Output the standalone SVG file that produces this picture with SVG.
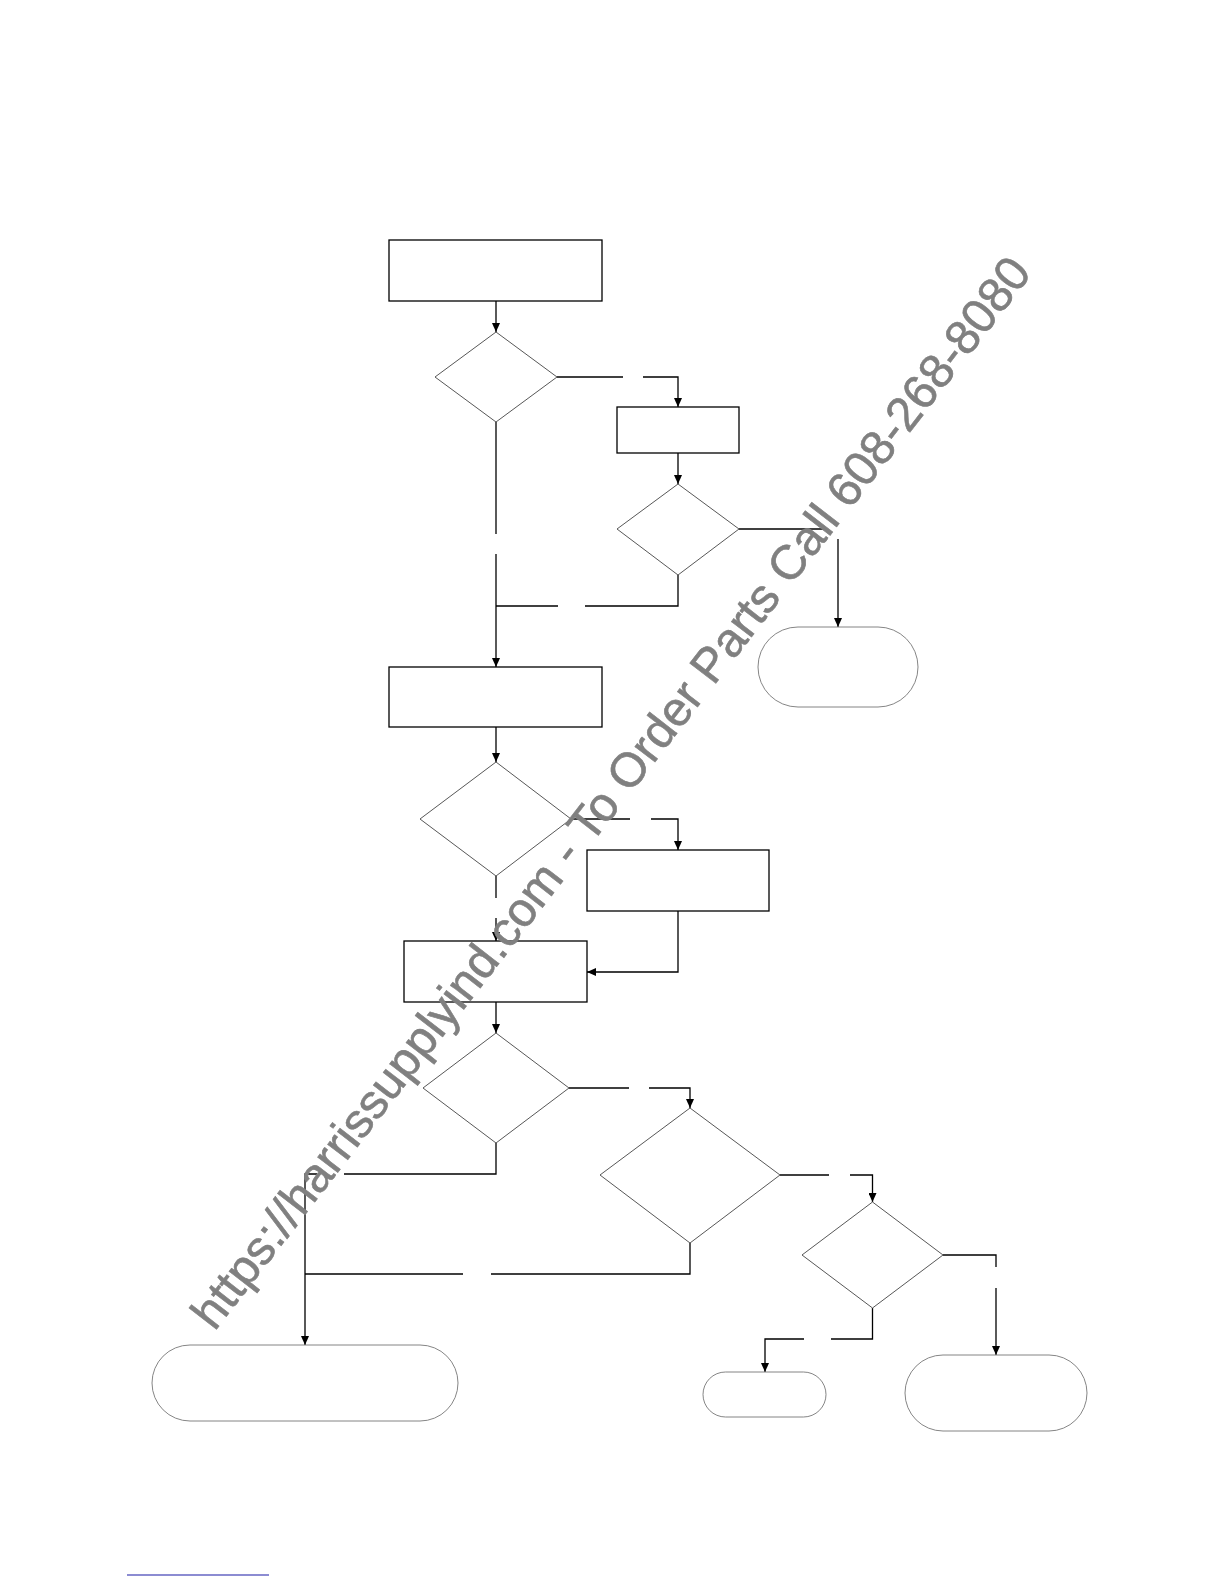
<svg xmlns="http://www.w3.org/2000/svg" width="1224" height="1584" viewBox="0 0 1224 1584">
<style>
.box{fill:#fff;stroke:#000;stroke-width:1.3}
.dec{fill:#fff;stroke:#444;stroke-width:0.9}
.term{fill:#fff;stroke:#777;stroke-width:0.9}
.con{fill:none;stroke:#000;stroke-width:1.3}
.wm{fill:#808080;stroke:#808080;stroke-width:0.6;font-family:"Liberation Sans",Arial,sans-serif;font-size:48.2px}
</style>
<defs>
<marker id="arr" viewBox="0 0 9 8" refX="9" refY="4" markerWidth="9" markerHeight="8" markerUnits="userSpaceOnUse" orient="auto">
<path d="M0,0 L9,4 L0,8 z" fill="#000"/>
</marker>
</defs>
<rect width="1224" height="1584" fill="#fff"/>
<g id="connectors">
<path class="con" d="M496,301 V332" marker-end="url(#arr)"/>
<path class="con" d="M557,377 H623"/>
<path class="con" d="M643,377 H678 V407" marker-end="url(#arr)"/>
<path class="con" d="M678,453 V484" marker-end="url(#arr)"/>
<path class="con" d="M739,529 H827"/>
<path class="con" d="M838,539 V627" marker-end="url(#arr)"/>
<path class="con" d="M678,575 V606 H585"/>
<path class="con" d="M558,606 H496"/>
<path class="con" d="M496,422 V534"/>
<path class="con" d="M496,554 V667" marker-end="url(#arr)"/>
<path class="con" d="M496,727 V762" marker-end="url(#arr)"/>
<path class="con" d="M571,819 H630"/>
<path class="con" d="M651,819 H678 V850" marker-end="url(#arr)"/>
<path class="con" d="M678,911 V972 H587" marker-end="url(#arr)"/>
<path class="con" d="M496,876 V898"/>
<path class="con" d="M496,918 V941" marker-end="url(#arr)"/>
<path class="con" d="M496,1002 V1033" marker-end="url(#arr)"/>
<path class="con" d="M569,1088 H629"/>
<path class="con" d="M649,1088 H690 V1108" marker-end="url(#arr)"/>
<path class="con" d="M496,1143 V1174 H344"/>
<path class="con" d="M317,1174 H305 V1345" marker-end="url(#arr)"/>
<path class="con" d="M690,1243 V1274 H491"/>
<path class="con" d="M463,1274 H305"/>
<path class="con" d="M780,1175 H829"/>
<path class="con" d="M850,1175 H872.5 V1202" marker-end="url(#arr)"/>
<path class="con" d="M943,1255 H996 V1267"/>
<path class="con" d="M996,1288 V1355" marker-end="url(#arr)"/>
<path class="con" d="M872.5,1308 V1339 H831"/>
<path class="con" d="M804,1339 H765 V1372" marker-end="url(#arr)"/>
</g>
<g id="box1"><rect class="box" x="389" y="240" width="213" height="61"/></g>
<g id="dec1"><polygon class="dec" points="496,332 557,377 496,422 435,377"/></g>
<g id="boxA"><rect class="box" x="617" y="407" width="122" height="46"/></g>
<g id="dec2"><polygon class="dec" points="678,484 739,529 678,575 617,529"/></g>
<g id="term1"><rect class="term" x="758" y="627" width="160" height="80" rx="40" ry="40"/></g>
<g id="box2"><rect class="box" x="389" y="667" width="213" height="60"/></g>
<g id="dec3"><polygon class="dec" points="496,762 571,819 496,876 420,819"/></g>
<g id="boxB"><rect class="box" x="587" y="850" width="182" height="61"/></g>
<g id="boxC"><rect class="box" x="404" y="941" width="183" height="61"/></g>
<g id="dec4"><polygon class="dec" points="496,1033 569,1088 496,1143 423,1088"/></g>
<g id="dec5"><polygon class="dec" points="690,1108 780,1175 690,1243 600,1175"/></g>
<g id="dec6"><polygon class="dec" points="872.5,1202 943,1255 872.5,1308 802,1255"/></g>
<g id="term2"><rect class="term" x="703" y="1372" width="123" height="45" rx="22.5" ry="22.5"/></g>
<g id="term3"><rect class="term" x="905" y="1355" width="182" height="76" rx="38" ry="38"/></g>
<g id="term4"><rect class="term" x="152" y="1345" width="306" height="76" rx="38" ry="38"/></g>
<line x1="127" y1="1575" x2="269" y2="1575" stroke="#1a1aa6" stroke-width="1.2"/>
<text class="wm" transform="translate(214.6,1332) rotate(-52.3)" x="0" y="0">https://harrissupplyind.com - To Order Parts Call 608-268-8080</text>
</svg>
